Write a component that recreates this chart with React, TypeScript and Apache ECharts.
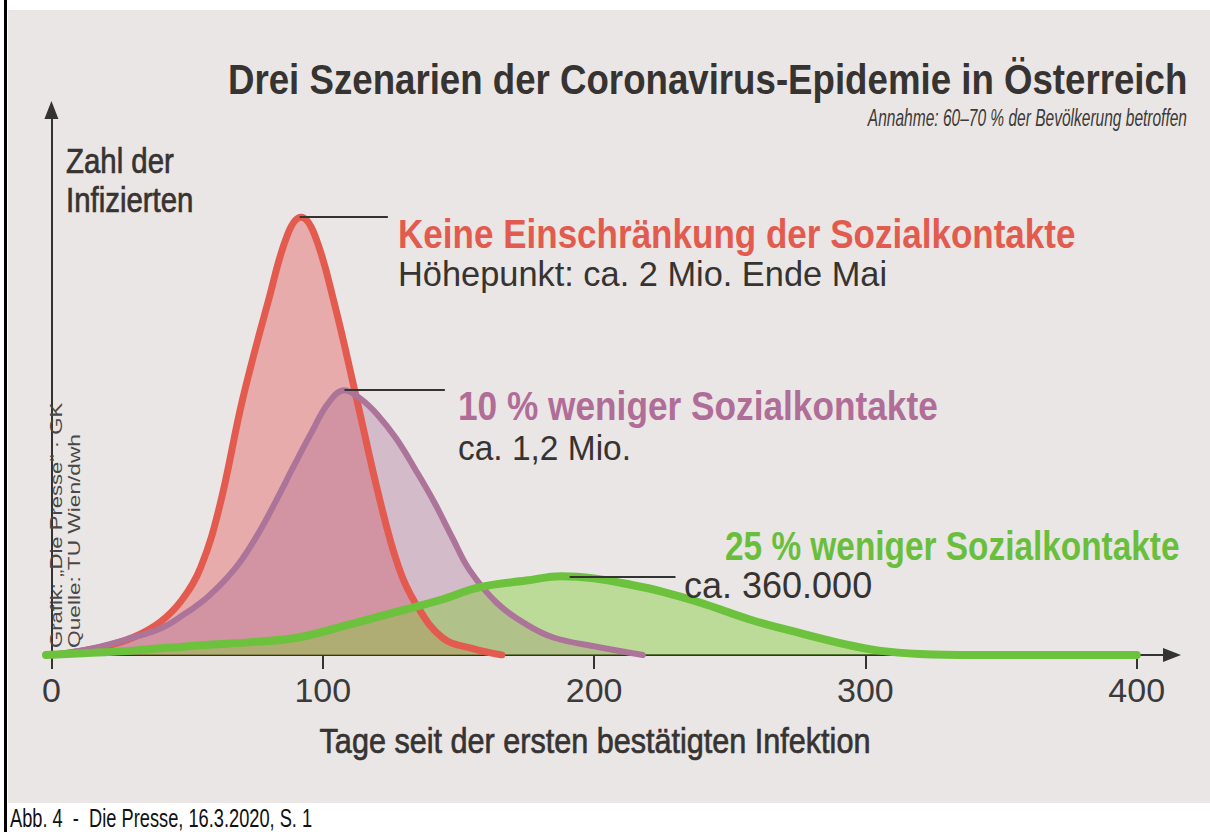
import React, { useEffect, useRef } from "react";
import * as echarts from "echarts";

// Days since first confirmed infection -> infected (millions)
const redCurve: [number, number][] = [
  [0, 0.0], [10, 0.015], [20, 0.04], [30, 0.08], [40, 0.15], [48, 0.25],
  [55, 0.4], [62, 0.68], [70.5, 1.17], [80, 1.62], [87, 1.92], [92, 2.0], [97, 1.92],
  [104, 1.62], [112.5, 1.17], [121, 0.71], [128, 0.4], [134, 0.24], [144, 0.08],
  [155, 0.03], [166, 0.0],
];
const purpleCurve: [number, number][] = [
  [0, 0.0], [15, 0.03], [30, 0.08], [40, 0.12], [47, 0.17], [58, 0.27], [68, 0.4],
  [76, 0.55], [83, 0.71], [90, 0.88], [96, 1.02], [102, 1.15], [108, 1.21], [114, 1.17],
  [120, 1.1], [127, 0.99], [134, 0.85], [141, 0.7], [148, 0.53], [154, 0.39], [164, 0.24],
  [175, 0.14], [185, 0.08], [200, 0.04], [218, 0.0],
];
const greenCurve: [number, number][] = [
  [-2, 0.0], [15, 0.01], [30, 0.02], [55, 0.045], [75, 0.06], [91, 0.08], [110, 0.14],
  [128, 0.2], [143, 0.25], [158, 0.31], [175, 0.34], [188, 0.36], [200, 0.35], [214, 0.32],
  [225, 0.29], [239, 0.24], [258, 0.16], [276, 0.1], [294, 0.045], [305, 0.02], [320, 0.005],
  [340, 0.0], [400, 0.0],
];
const xTicks = [0, 100, 200, 300, 400];

// leader lines: [fromDay, toDay, value]
const redLeader = [91.5, 124, 2.0];
const purpleLeader = [108, 145, 1.21];
const greenLeader = [191, 230, 0.357];

const TITLE = "Drei Szenarien der Coronavirus-Epidemie in Österreich";
const SUBTITLE = "Annahme: 60–70 % der Bevölkerung betroffen";
const Y_NAME = ["Zahl der", "Infizierten"];
const X_NAME = "Tage seit der ersten bestätigten Infektion";
const RED_LABEL = ["Keine Einschränkung der Sozialkontakte", "Höhepunkt: ca. 2 Mio. Ende Mai"];
const PURPLE_LABEL = ["10 % weniger Sozialkontakte", "ca. 1,2 Mio."];
const GREEN_LABEL = ["25 % weniger Sozialkontakte", "ca. 360.000"];
const CREDITS = ["Grafik: „Die Presse“ · GK", "Quelle: TU Wien/dwh"];
const CAPTION = "Abb. 4  -  Die Presse, 16.3.2020, S. 1";

const FONT = "'Liberation Sans', Arial, sans-serif";
const RED = "#e35b4f";
const PURPLE = "#ad7499";
const GREEN = "#6cc13d";
const INK = "#363331";

function leader(l: number[]) {
  return {
    silent: true,
    symbol: ["none", "none"],
    label: { show: false },
    lineStyle: { color: "#333", width: 2, type: "solid" },
    data: [[{ coord: [l[0], l[2]] }, { coord: [l[1], l[2]] }]],
  };
}

function txt(
  x: number,
  y: number,
  text: string,
  size: number,
  color: string,
  sx: number,
  extra: any = {},
  styleExtra: any = {}
) {
  return {
    type: "text",
    x,
    y,
    z: 100,
    scaleX: sx,
    ...extra,
    style: {
      text,
      fill: color,
      fontSize: size,
      lineHeight: size,
      fontFamily: FONT,
      align: "left",
      verticalAlign: "middle",
      ...styleExtra,
    },
  };
}

export default function App() {
  const ref = useRef<HTMLDivElement>(null);
  useEffect(() => {
    const chart = echarts.init(ref.current!, null, { renderer: "svg" });
    const areaSeries = (data: [number, number][], color: string) => ({
      type: "line",
      data,
      smooth: 0.4,
      showSymbol: false,
      symbol: "none",
      lineStyle: { width: 0, opacity: 0 },
      areaStyle: { color, origin: "start" },
      silent: true,
    });
    const lineSeries = (data: [number, number][], color: string, width: number, l: number[]) => ({
      type: "line",
      data,
      smooth: 0.4,
      showSymbol: false,
      symbol: "none",
      lineStyle: { width, color, cap: "round" },
      silent: true,
      markLine: leader(l),
    });
    const medium = { stroke: INK, lineWidth: 0.7 };
    chart.setOption({
      animation: false,
      backgroundColor: "#ffffff",
      grid: { left: 46, right: 38, top: 110, bottom: 177, containLabel: false },
      xAxis: {
        type: "value",
        min: -2,
        max: 413,
        axisLine: {
          show: true,
          symbol: ["none", "triangle"],
          symbolSize: [14, 18],
          lineStyle: { color: "#333", width: 2 },
        },
        axisTick: { show: true, length: 14, lineStyle: { color: "#333", width: 2 }, customValues: xTicks },
        axisLabel: {
          show: true,
          customValues: xTicks,
          fontSize: 34,
          fontFamily: FONT,
          color: "#3a3a3a",
          margin: 18,
        },
        splitLine: { show: false },
      },
      yAxis: {
        type: "value",
        min: 0,
        max: 2.49,
        axisLine: {
          show: true,
          symbol: ["none", "triangle"],
          symbolSize: [14, 18],
          lineStyle: { color: "#333", width: 2 },
        },
        axisTick: { show: false },
        axisLabel: { show: false },
        splitLine: { show: false },
      },
      series: [
        areaSeries(redCurve, "rgba(228,98,98,0.64)"),
        areaSeries(purpleCurve, "rgba(165,95,145,0.46)"),
        areaSeries(greenCurve, "rgba(130,205,55,0.62)"),
        lineSeries(redCurve, RED, 7, redLeader),
        lineSeries(purpleCurve, PURPLE, 6, purpleLeader),
        lineSeries(greenCurve, GREEN, 8, greenLeader),
      ],
      graphic: [
        { type: "rect", z: -10, shape: { x: 8, y: 10, width: 1202, height: 793 }, style: { fill: "#e9e6e5" } },
        { type: "rect", z: 200, shape: { x: 4, y: 0, width: 3, height: 832 }, style: { fill: "#000" } },
        txt(228, 79, TITLE, 42, INK, 0.873, {}, { fontWeight: "bold" }),
        txt(1187, 118, SUBTITLE, 23, "#3d3a38", 0.675, {}, { fontStyle: "italic", align: "right" }),
        txt(66, 161, Y_NAME[0], 35, INK, 0.84, {}, medium),
        txt(66, 200, Y_NAME[1], 35, INK, 0.84, {}, medium),
        txt(398, 234, RED_LABEL[0], 40, RED, 0.876, {}, { fontWeight: "bold" }),
        txt(398, 273, RED_LABEL[1], 36, INK, 0.955),
        txt(458, 406, PURPLE_LABEL[0], 40, "#b06d97", 0.881, {}, { fontWeight: "bold" }),
        txt(458, 448, PURPLE_LABEL[1], 36, INK, 0.93),
        txt(725, 546, GREEN_LABEL[0], 40, "#69bf3c", 0.835, {}, { fontWeight: "bold" }),
        txt(684, 585, GREEN_LABEL[1], 36, INK, 1.0),
        txt(595, 741, X_NAME, 36, INK, 0.85, {}, { align: "center", ...medium }),
        txt(57, 648, CREDITS[0], 16, "#4a4746", 1.38, { rotation: Math.PI / 2 }),
        txt(74, 648, CREDITS[1], 16, "#4a4746", 1.42, { rotation: Math.PI / 2 }),
        txt(10, 818, CAPTION, 25, "#111", 0.73),
      ],
    });
    return () => chart.dispose();
  }, []);
  return (
    <div
      ref={ref}
      style={{ position: "absolute", left: 0, top: 0, width: 1210, height: 832 }}
    />
  );
}
